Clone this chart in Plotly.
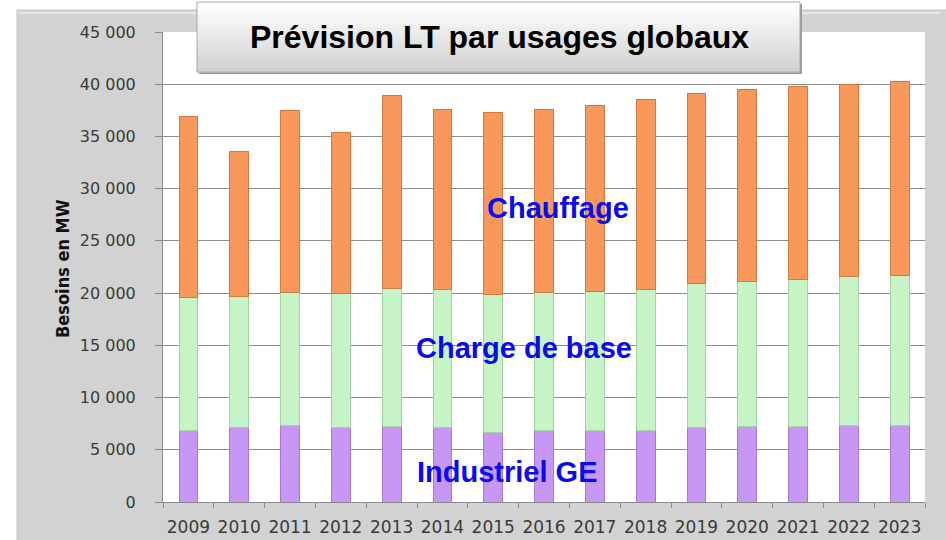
import plotly.graph_objects as go

years = ["2009", "2010", "2011", "2012", "2013", "2014", "2015", "2016",
         "2017", "2018", "2019", "2020", "2021", "2022", "2023"]
industriel = [6800, 7100, 7300, 7100, 7200, 7100, 6700, 6800, 6800, 6800, 7100, 7200, 7200, 7300, 7300]
charge_base = [12750, 12600, 12800, 12900, 13200, 13200, 13200, 13300, 13400, 13500, 13800, 13900, 14100, 14300, 14350]
chauffage = [17400, 13900, 17350, 15400, 18500, 17300, 17400, 17500, 17800, 18200, 18200, 18400, 18450, 18400, 18650]

title_text = "Prévision LT par usages globaux"
y_title = "Besoins en MW"
labels = [("Chauffage", 558, 208), ("Charge de base", 524, 348), ("Industriel GE", 507, 472)]

W, H = 946, 540
L, R, T, B = 163, 21, 32, 38
PW, PH = W - L - R, H - T - B


def px(x):
    return (x - L) / PW


def py(y):
    return (H - B - y) / PH


fig = go.Figure()
series = [
    ("Industriel GE", industriel, "#c896f4", "#a877d6"),
    ("Charge de base", charge_base, "#c6f4c6", "#a2d4a2"),
    ("Chauffage", chauffage, "#f8985a", "#cf7a40"),
]
for name, vals, col, edge in series:
    fig.add_trace(go.Bar(x=years, y=vals, name=name,
                         marker=dict(color=col, line=dict(color=edge, width=1))))

shapes = []
# outer gray chart area
shapes.append(dict(type="rect", xref="paper", yref="paper", layer="below",
                   x0=px(17), x1=px(960), y0=py(10), y1=py(560),
                   fillcolor="#d2d2d2", line=dict(color="#c4c4c4", width=1)))
shapes.append(dict(type="rect", xref="paper", yref="paper", layer="below",
                   x0=px(19), x1=px(940), y0=py(12), y1=py(14),
                   fillcolor="#e6e6e6", line=dict(width=0)))
# plot area white
shapes.append(dict(type="rect", xref="paper", yref="paper", layer="below",
                   x0=0, x1=1, y0=0, y1=1,
                   fillcolor="#ffffff", line=dict(width=0)))
# title box shadow
shapes.append(dict(type="rect", xref="paper", yref="paper", layer="above",
                   x0=px(199), x1=px(802), y0=py(4), y1=py(74),
                   fillcolor="#9a9a9a", line=dict(width=0)))
# title box gradient bands
x0b, x1b, ytop, ybot = 197, 800, 2, 72
n = 14
for i in range(n):
    t = i / (n - 1)
    c = int(255 - t * (255 - 210))
    shapes.append(dict(type="rect", xref="paper", yref="paper", layer="above",
                       x0=px(x0b), x1=px(x1b),
                       y0=py(ytop + (ybot - ytop) * i / n),
                       y1=py(ytop + (ybot - ytop) * (i + 1) / n + 0.5),
                       fillcolor=f"rgb({c},{c},{c})", line=dict(width=0)))
shapes.append(dict(type="rect", xref="paper", yref="paper", layer="above",
                   x0=px(x0b), x1=px(x1b), y0=py(ytop), y1=py(ybot),
                   fillcolor="rgba(0,0,0,0)", line=dict(color="#a8a8a8", width=1)))

annotations = [
    dict(text=f"<b>{title_text}</b>", x=px(499), y=py(37), xref="paper", yref="paper",
         showarrow=False, xanchor="center", yanchor="middle",
         font=dict(family="Liberation Sans, Arial, sans-serif", size=32, color="#000000")),
    dict(text=f"<b>{y_title}</b>", x=px(62), y=py(269), xref="paper", yref="paper",
         showarrow=False, xanchor="center", yanchor="middle", textangle=-90,
         font=dict(family="Liberation Sans Narrow, DejaVu Sans Condensed, Liberation Sans, sans-serif",
                   size=18, color="#111111")),
]
for txt, x, y in labels:
    annotations.append(dict(text=f"<b>{txt}</b>", x=px(x), y=py(y), xref="paper", yref="paper",
                            showarrow=False, xanchor="center", yanchor="middle",
                            font=dict(family="Liberation Sans, Arial, sans-serif", size=29,
                                      color="#0a0af0")))

fig.update_layout(
    width=W, height=H,
    margin=dict(l=L, r=R, t=T, b=B, pad=0, autoexpand=False),
    barmode="stack", bargap=0.63,
    showlegend=False,
    paper_bgcolor="#ffffff", plot_bgcolor="rgba(0,0,0,0)",
    separators=", ",
    shapes=shapes, annotations=annotations,
    xaxis=dict(type="category", tickson="boundaries", ticks="outside", ticklen=5,
               tickcolor="#8a8a8a", showline=True, linecolor="#8a8a8a", showgrid=False,
               tickangle=0, automargin=False,
               tickfont=dict(family="DejaVu Sans, sans-serif", size=17, color="#3a3a3a"),
               ticklabelstandoff=10),
    yaxis=dict(range=[0, 45000], dtick=5000, tickformat=",", ticks="outside", ticklen=7,
               tickcolor="#8a8a8a", showline=True, linecolor="#8a8a8a", automargin=False,
               showgrid=True, gridcolor="#8c8c8c", gridwidth=1, zeroline=False,
               tickfont=dict(family="DejaVu Sans, sans-serif", size=16, color="#3a3a3a"),
               ticklabelstandoff=16),
)

fig.write_html("out.html", config={"displayModeBar": False},
               post_script="document.body.style.margin='0px';document.body.style.overflow='hidden';")
